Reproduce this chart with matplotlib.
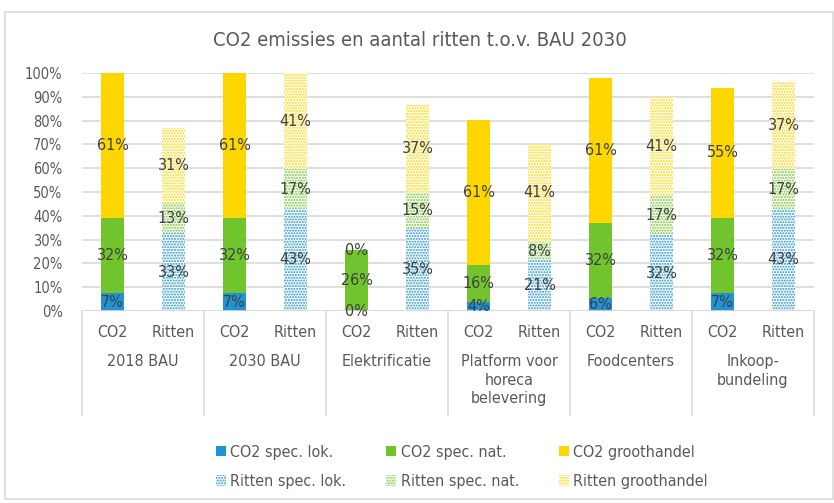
import matplotlib
matplotlib.use("Agg")
import matplotlib.pyplot as plt
from matplotlib.patches import Rectangle, Patch
import matplotlib.transforms as mtransforms

plt.rcParams['font.family'] = ['DejaVu Sans']
plt.rcParams['font.stretch'] = 'condensed'

groups = ["2018 BAU", "2030 BAU", "Elektrificatie", "Platform voor\nhoreca\nbelevering",
          "Foodcenters", "Inkoop-\nbundeling"]
sub = ["CO2", "Ritten"]

co2_lok = [7.4, 7.4, 0.0, 3.6, 5.6, 7.4]
co2_nat = [31.5, 31.5, 25.6, 15.6, 31.5, 31.5]
co2_groot = [61.1, 61.1, 0.0, 61.1, 61.0, 55.0]

rit_lok = [32.6, 42.9, 34.7, 21.3, 31.8, 42.9]
rit_nat = [12.9, 16.6, 15.0, 7.7, 16.8, 16.6]
rit_groot = [31.3, 40.6, 36.9, 41.2, 41.2, 36.8]

legend_labels = ["CO2 spec. lok.", "CO2 spec. nat.", "CO2 groothandel",
                 "Ritten spec. lok.", "Ritten spec. nat.", "Ritten groothandel"]
yticks = list(range(0, 101, 10))

blue = "#1F93D3"
green = "#72C42F"
yellow = "#FFD600"
txt = "#404040"
grey = "#595959"

W, H = 834, 503
fig = plt.figure(figsize=(W / 100, H / 100), dpi=100)
fig.patches.append(Rectangle((5 / W, 4 / H), (W - 6) / W, (H - 16) / H, transform=fig.transFigure,
                             fill=False, edgecolor="#D9D9D9", lw=1.2))

ax = fig.add_axes([82 / W, 1 - 311 / H, (814 - 82) / W, (311 - 73) / H])
ax.set_xlim(-0.5, 11.5)
ax.set_ylim(0, 100)
for s in ax.spines.values():
    s.set_visible(False)
ax.set_yticks(yticks)
ax.set_yticklabels([f"{v}%" for v in yticks], color=grey, fontsize=10.5)
ax.tick_params(axis='y', length=0, pad=14)
ax.grid(axis='y', color="#D9D9D9", lw=1.2)
ax.set_axisbelow(True)

bw = 0.39
plt.rcParams['hatch.linewidth'] = 1.0

def label(x, bottom, h):
    ax.text(x, bottom + h / 2, f"{round(h):.0f}%", ha='center', va='center', color=txt, fontsize=11.5)

for g in range(len(groups)):
    xc = 2 * g
    xr = 2 * g + 1
    b = 0
    for val, col in zip([co2_lok[g], co2_nat[g], co2_groot[g]], [blue, green, yellow]):
        ax.bar(xc, val, bw, bottom=b, color=col, lw=0)
        b += val
    b = 0
    for val, col in zip([rit_lok[g], rit_nat[g], rit_groot[g]], [blue, green, yellow]):
        ax.bar(xr, val, bw, bottom=b, facecolor="white", edgecolor=col, hatch="......", lw=0)
        b += val
    b = 0
    for val in [co2_lok[g], co2_nat[g], co2_groot[g]]:
        label(xc, b, val)
        b += val
    b = 0
    for val in [rit_lok[g], rit_nat[g], rit_groot[g]]:
        label(xr, b, val)
        b += val

ax.set_xticks(range(12))
ax.set_xticklabels(sub * len(groups), color=grey, fontsize=11.5)
ax.tick_params(axis='x', length=0, pad=10)

ax.axhline(0, color="#D9D9D9", lw=1.2)
trans = mtransforms.blended_transform_factory(ax.transData, ax.transAxes)
sep_bottom = -(415 - 311) / (311 - 73)
for k in range(len(groups) + 1):
    ax.plot([2 * k - 0.5, 2 * k - 0.5], [0, sep_bottom], transform=trans, color="#D9D9D9",
            lw=1.2, clip_on=False)
for g, name in enumerate(groups):
    ax.text(2 * g + 0.5, -(354 - 311) / (311 - 73), name, transform=trans, ha='center', va='top',
            color=grey, fontsize=11.5, linespacing=1.3)

fig.text(420 / W, 1 - 41 / H, "CO2 emissies en aantal ritten t.o.v. BAU 2030", ha='center', va='center',
         color=grey, fontsize=14.5)

handles = [Patch(facecolor=blue, lw=0), Patch(facecolor="white", edgecolor=blue, hatch="......", lw=0),
           Patch(facecolor=green, lw=0), Patch(facecolor="white", edgecolor=green, hatch="......", lw=0),
           Patch(facecolor=yellow, lw=0), Patch(facecolor="white", edgecolor=yellow, hatch="......", lw=0)]
labs = [legend_labels[0], legend_labels[3], legend_labels[1], legend_labels[4], legend_labels[2], legend_labels[5]]
fig.legend(handles, labs, ncol=3, loc='center', bbox_to_anchor=(462 / W, 1 - 467 / H), frameon=False,
           fontsize=11.5, labelcolor=grey, handlelength=0.6, handleheight=0.6, handletextpad=0.3,
           columnspacing=2.5, labelspacing=0.9)

fig.savefig("out.png", dpi=100)
